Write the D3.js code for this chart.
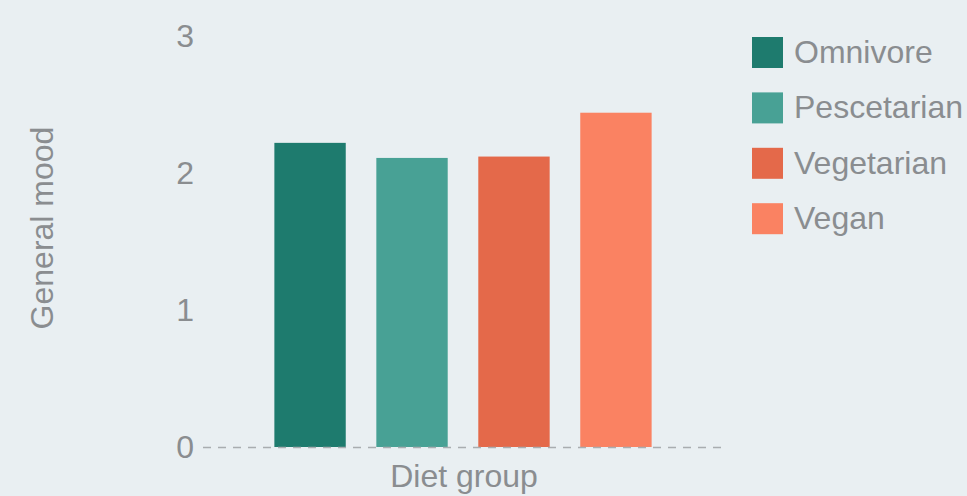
<!DOCTYPE html>
<html>
<head>
<meta charset="utf-8">
<script src="https://cdn.jsdelivr.net/npm/d3@7"></script>
<style>
  html, body { margin: 0; padding: 0; background: #e9eff2; }
  svg { display: block; }
  text { font-family: "Liberation Sans", Arial, sans-serif; }
</style>
</head>
<body>
<svg id="chart" width="967" height="496"></svg>
<script>
const categories = ["Omnivore", "Pescetarian", "Vegetarian", "Vegan"];
const values = [2.22, 2.11, 2.12, 2.44];
const colors = ["#1e7b6e", "#48a195", "#e4694a", "#fa8262"];
const yTicks = [0, 1, 2, 3];
const xTitle = "Diet group";
const yTitle = "General mood";

const svg = d3.select("#chart");
svg.append("rect").attr("width", 967).attr("height", 496).attr("fill", "#e9eff2");

const x = d3.scaleBand().domain(categories).range([203, 723]).paddingInner(0.3).paddingOuter(0.7);
const y = d3.scaleLinear().domain([0, 3]).range([447, 36]);

// y tick labels
const yAxis = d3.axisLeft(y).tickValues(yTicks).tickSize(0).tickPadding(0).tickFormat(d3.format("d"));
const gy = svg.append("g").attr("transform", "translate(194,0)").call(yAxis);
gy.select(".domain").remove();
gy.selectAll("text")
  .attr("font-family", "Liberation Sans, Arial, sans-serif")
  .attr("font-size", 32)
  .attr("fill", "#8a8d90")
  .attr("dy", "0.34em");

// bars
svg.append("g").selectAll("rect")
  .data(categories)
  .join("rect")
  .attr("x", d => x(d))
  .attr("width", x.bandwidth())
  .attr("y", (d, i) => y(values[i]))
  .attr("height", (d, i) => y(0) - y(values[i]))
  .attr("fill", (d, i) => colors[i]);

// dashed baseline
svg.append("line")
  .attr("x1", x.range()[0]).attr("x2", x.range()[1])
  .attr("y1", y(0) + 0.5).attr("y2", y(0) + 0.5)
  .attr("stroke", "#a9adb0")
  .attr("stroke-width", 1.5)
  .attr("stroke-dasharray", "8,7");

// axis titles
svg.append("text")
  .attr("x", 464).attr("y", 487)
  .attr("text-anchor", "middle")
  .attr("font-size", 32)
  .attr("fill", "#8a8d90")
  .text(xTitle);

svg.append("text")
  .attr("transform", "translate(53,228) rotate(-90)")
  .attr("text-anchor", "middle")
  .attr("font-size", 32)
  .attr("fill", "#8a8d90")
  .text(yTitle);

// legend
const legend = svg.append("g").attr("transform", "translate(752,37)");
const items = legend.selectAll("g").data(categories).join("g")
  .attr("transform", (d, i) => `translate(0,${i * 55.4})`);
items.append("rect").attr("width", 31).attr("height", 31).attr("fill", (d, i) => colors[i]);
items.append("text")
  .attr("x", 42).attr("y", 26)
  .attr("font-size", 32)
  .attr("fill", "#8a8d90")
  .text(d => d);
</script>
</body>
</html>
